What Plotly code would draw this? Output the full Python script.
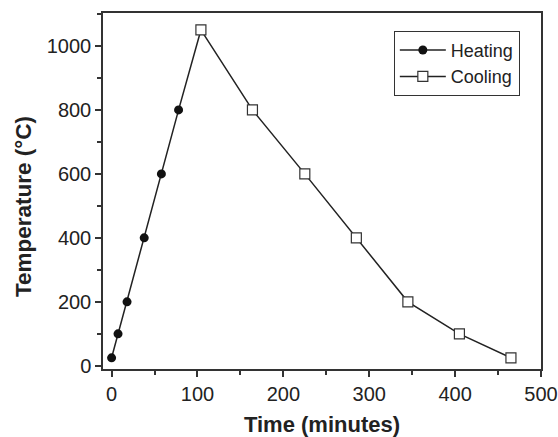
import plotly.graph_objects as go

heat_time = [0, 7.5, 18, 38, 58, 78, 104]
heat_temp = [25, 100, 200, 400, 600, 800, 1050]
cool_time = [104, 164, 225, 285, 345, 405, 465]
cool_temp = [1050, 800, 600, 400, 200, 100, 25]

line_col = "#222222"
fig = go.Figure()
fig.add_trace(go.Scatter(
    x=heat_time, y=heat_temp, mode="lines+markers", name="Heating",
    line=dict(color=line_col, width=1.5),
    marker=dict(symbol="circle", size=9, color="#111111", line=dict(width=0)),
))
fig.add_trace(go.Scatter(
    x=cool_time, y=cool_temp, mode="lines+markers", name="Cooling",
    line=dict(color=line_col, width=1.5),
    marker=dict(symbol="square", size=10, color="white", line=dict(color="#333333", width=1.2)),
))

font = "Liberation Sans, Arial, sans-serif"
fig.update_layout(
    width=558, height=437,
    margin=dict(l=103, r=17, t=13, b=68),
    plot_bgcolor="white", paper_bgcolor="white",
    font=dict(family=font, size=20, color="#222222"),
    showlegend=True,
    legend=dict(x=0.664, y=0.95, xanchor="left", yanchor="top",
                bordercolor="#333333", borderwidth=1, bgcolor="white",
                font=dict(size=18), tracegroupgap=0, itemwidth=46),
    xaxis=dict(
        range=[-10, 500], tickvals=[0, 100, 200, 300, 400, 500],
        ticks="outside", ticklen=6, tickwidth=1.5, tickcolor="#333333",
        minor=dict(tickvals=[50, 150, 250, 350, 450], ticks="outside", ticklen=4, tickwidth=1.5, tickcolor="#333333"),
        showline=True, linecolor="#333333", linewidth=1.5, mirror=True,
        showgrid=False, zeroline=False, automargin=False,
        tickfont=dict(size=20),
        title=dict(text="<b>Time (minutes)</b>", font=dict(size=22)),
    ),
    yaxis=dict(
        range=[-10, 1103], tickvals=[0, 200, 400, 600, 800, 1000],
        ticks="outside", ticklen=6, tickwidth=1.5, tickcolor="#333333",
        minor=dict(tickvals=[100, 300, 500, 700, 900, 1100], ticks="outside", ticklen=4, tickwidth=1.5, tickcolor="#333333"),
        showline=True, linecolor="#333333", linewidth=1.5, mirror=True,
        showgrid=False, zeroline=False, automargin=False,
        tickfont=dict(size=20),
    ),
    annotations=[dict(
        text="<b>Temperature (°C)</b>", textangle=-90,
        xref="paper", yref="paper", x=-0.1826, y=0.455,
        xanchor="center", yanchor="middle", showarrow=False,
        font=dict(size=22.5),
    )],
)
fig.write_html("out.html")
